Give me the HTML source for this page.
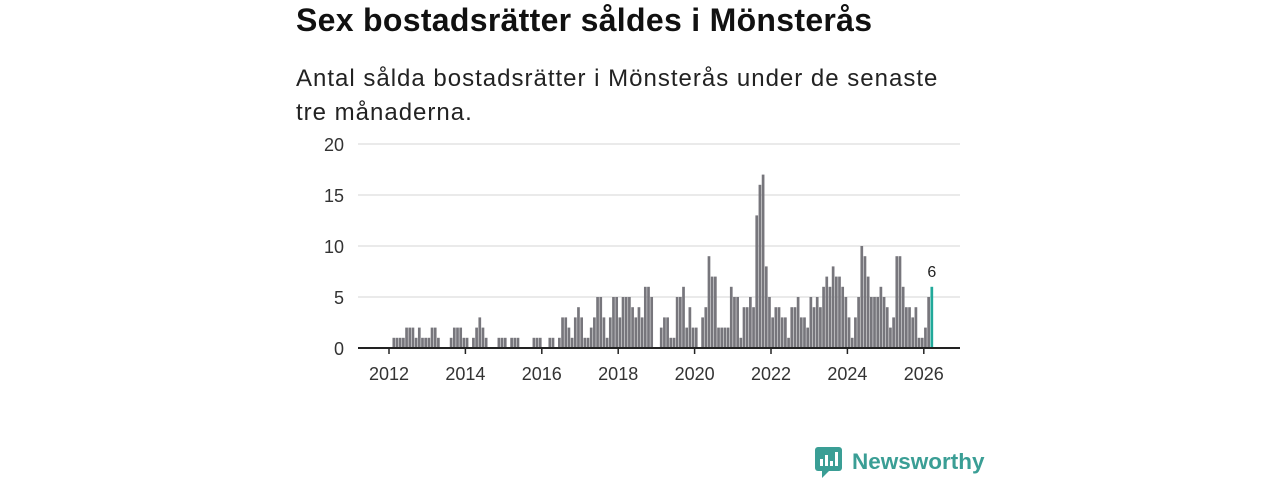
<!DOCTYPE html>
<html><head><meta charset="utf-8"><style>
body{margin:0;width:1280px;height:480px;background:#fff;font-family:"Liberation Sans","DejaVu Sans",sans-serif;overflow:hidden;position:relative}
h1{position:absolute;left:296px;top:2px;margin:0;font-size:32px;letter-spacing:0.3px;font-weight:bold;color:#111}
p{position:absolute;left:296px;top:62px;margin:0;font-size:24px;line-height:34px;color:#222;width:720px;letter-spacing:1px}
svg{position:absolute;left:0;top:0}
</style></head><body>
<h1>Sex bostadsrätter såldes i Mönsterås</h1>
<p>Antal sålda bostadsrätter i Mönsterås under de senaste<br>tre månaderna.</p>
<svg id="c" width="1280" height="480"></svg>
<svg width="1280" height="480">
<rect x="815" y="447" width="27" height="24" rx="3" fill="#3a9e95"/>
<path d="M822 471 L822 478 L829 471Z" fill="#3a9e95"/>
<rect x="820" y="459" width="3" height="7" fill="#fff"/><rect x="825" y="455" width="3" height="11" fill="#fff"/><rect x="830" y="461" width="3" height="5" fill="#fff"/><rect x="835" y="452" width="3" height="14" fill="#fff"/>
<text x="852" y="469" font-size="22.5" font-weight="bold" fill="#3a9e95" font-family="Liberation Sans, sans-serif">Newsworthy</text>
</svg>
<script>
const startYear = 2012;
const values = [
0,1,1,1,1,2,2,2,1,2,1,1,
1,2,2,1,0,0,0,1,2,2,2,1,
1,0,1,2,3,2,1,0,0,0,1,1,
1,0,1,1,1,0,0,0,0,1,1,1,
0,0,1,1,0,1,3,3,2,1,3,4,
3,1,1,2,3,5,5,3,1,3,5,5,
3,5,5,5,4,3,4,3,6,6,5,0,
0,2,3,3,1,1,5,5,6,2,4,2,
2,0,3,4,9,7,7,2,2,2,2,6,
5,5,1,4,4,5,4,13,16,17,8,5,
3,4,4,3,3,1,4,4,5,3,3,2,
5,4,5,4,6,7,6,8,7,7,6,5,
3,1,3,5,10,9,7,5,5,5,6,5,
4,2,3,9,9,6,4,4,3,4,1,1,
2,5,6];
const yTicks = [0,5,10,15,20];
const xTicks = [2012,2014,2016,2018,2020,2022,2024,2026];
const NS="http://www.w3.org/2000/svg", svg=document.getElementById('c');
const y0=348, pxU=10.2, x2012=389, pxY=38.2;
const Y=v=>y0-v*pxU, X=yr=>x2012+(yr-2012)*pxY;
function el(t,a){const e=document.createElementNS(NS,t);for(const k in a)e.setAttribute(k,a[k]);svg.appendChild(e);return e;}
yTicks.forEach(v=>{
 if(v>0){const g=el('line',{x1:358,x2:960,y1:Y(v),y2:Y(v),stroke:'#ddd','stroke-width':1.2});
 
 }
 const t=el('text',{x:344,y:Y(v)+7,'text-anchor':'end','font-size':18,fill:'#333'});t.textContent=v;
 
 
});
values.forEach((v,i)=>{
 const yr=startYear+i/12, x=X(yr)+0.3, last=i===values.length-1;
 const r=el('rect',{x:x,y:Y(v),width:2.7,height:v*pxU,fill:last?'#21a99a':'#77767c'});
 
 
 if(last){const t=el('text',{x:x+1.3,y:Y(v)-10,'text-anchor':'middle','font-size':16,fill:'#222'});t.textContent=v;
 
 }
});
const ax=el('line',{x1:358,x2:960,y1:y0,y2:y0,stroke:'#222','stroke-width':2});


xTicks.forEach(yr=>{
 el('line',{x1:X(yr),x2:X(yr),y1:y0,y2:y0+6,stroke:'#222','stroke-width':1.5});
 const t=el('text',{x:X(yr),y:y0+32,'text-anchor':'middle','font-size':18,fill:'#333'});t.textContent=yr;
 
 
});
</script>
</body></html>
